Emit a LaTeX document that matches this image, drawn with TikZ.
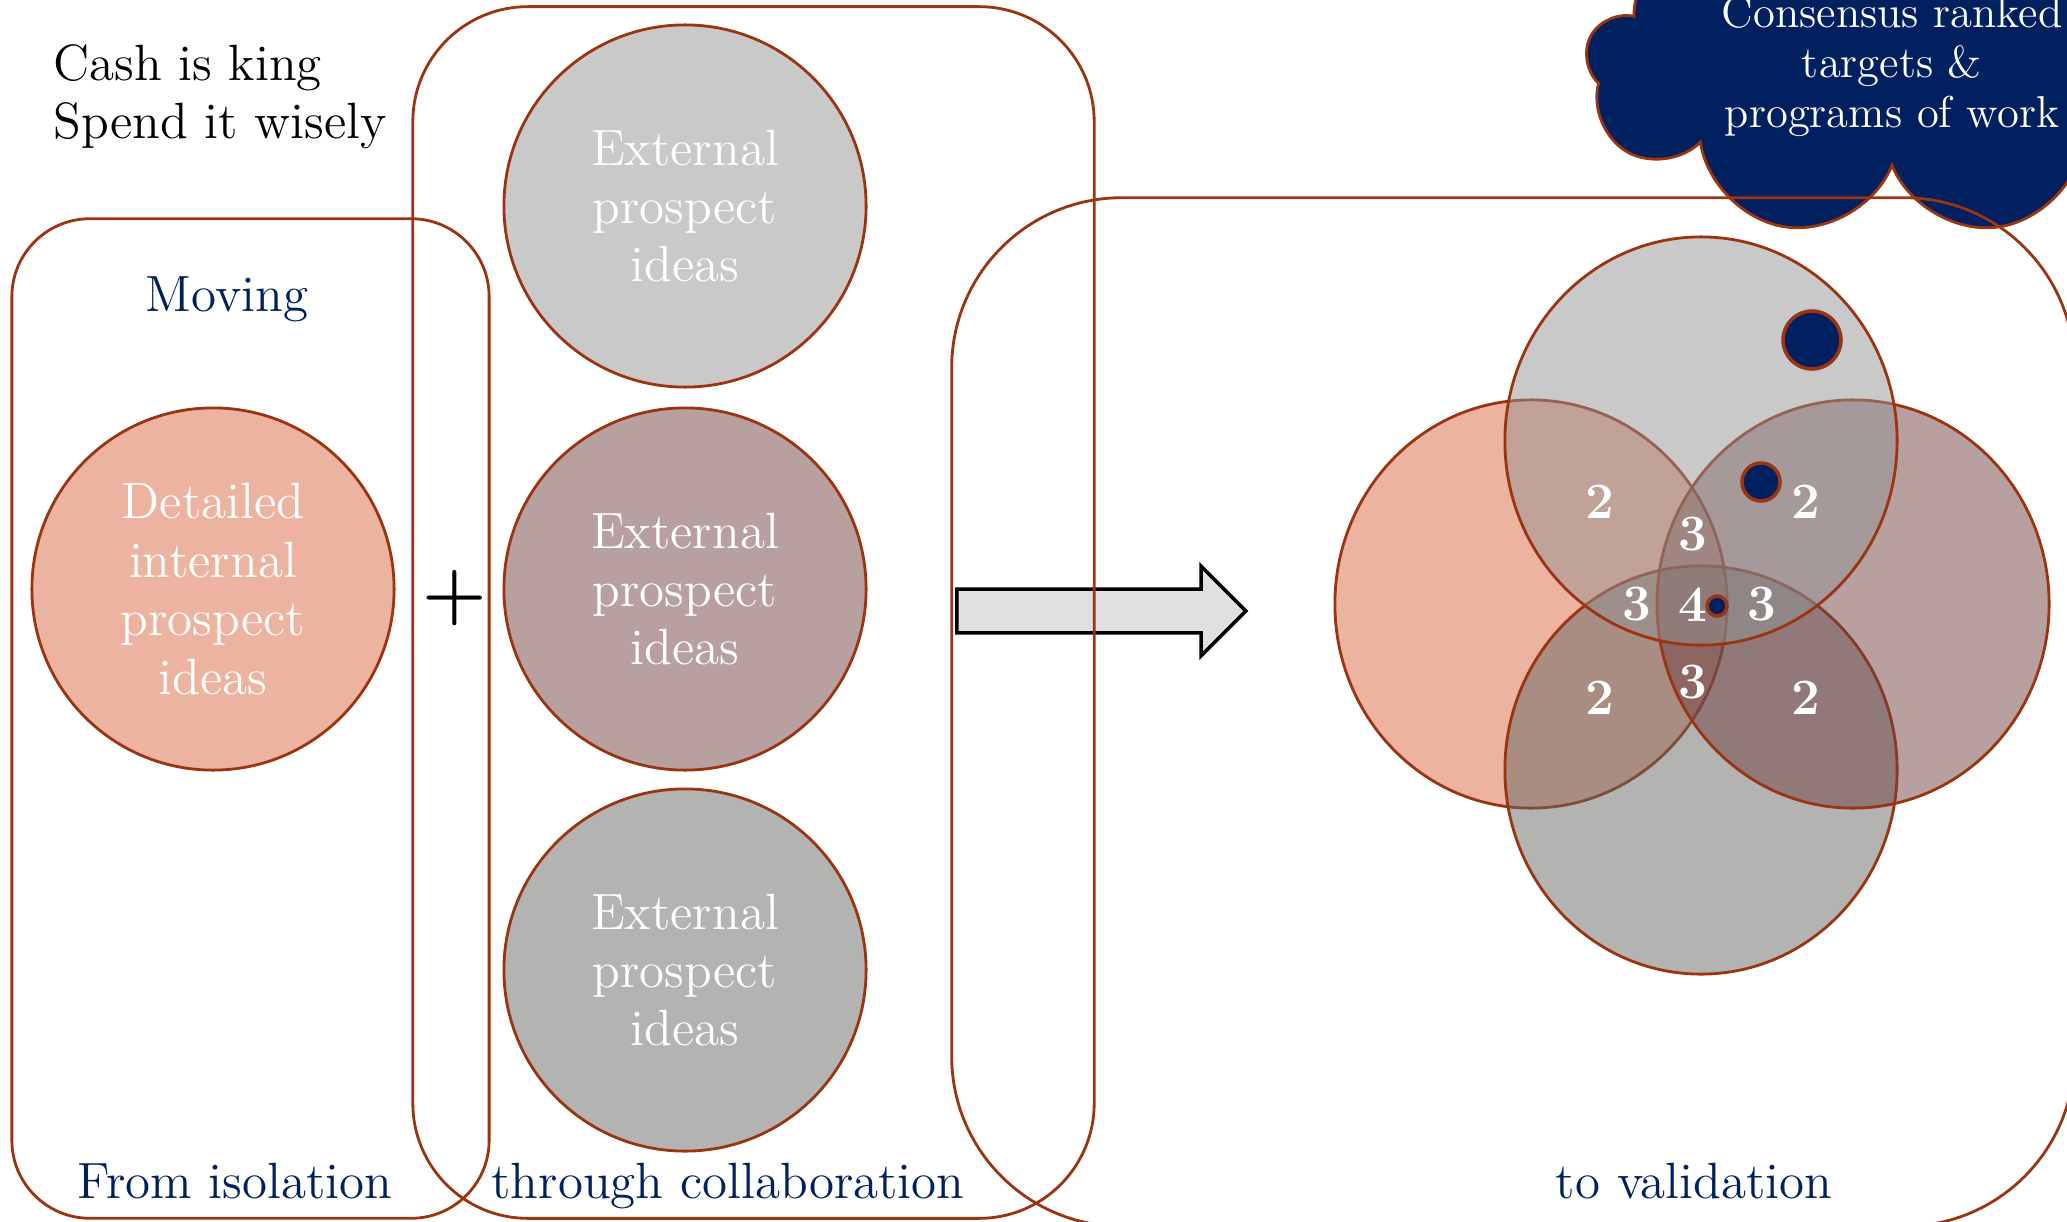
\documentclass[tikz,border=0pt]{standalone}
\usetikzlibrary{shapes.symbols,shapes.arrows,shapes.geometric}

\definecolor{rust}{RGB}{155,52,17}
\definecolor{navy}{RGB}{0,32,96}
\definecolor{salmon}{RGB}{237,179,161}
\definecolor{greyA}{RGB}{201,201,201}
\definecolor{mauve}{RGB}{184,160,160}
\definecolor{greyB}{RGB}{179,179,178}
\definecolor{arrowfill}{RGB}{224,224,224}
\definecolor{vsalmon}{RGB}{219,103,67}
\definecolor{vgreyA}{RGB}{147,147,147}
\definecolor{vmauve}{RGB}{113,65,65}
\definecolor{vgreyB}{RGB}{103,103,101}

\begin{document}
\begin{tikzpicture}[x=0.01cm, y=-0.01cm,
  font=\fontsize{14.5}{16.6}\selectfont,
  panel/.style={rectangle, draw=rust, line width=0.8pt},
  idea/.style={circle, draw=rust, line width=0.8pt, minimum size=3.62cm, text=white, align=center},
  venn/.style={ellipse, draw=rust, line width=0.8pt, fill opacity=0.5, minimum width=3.92cm, minimum height=4.08cm},
  caption/.style={text=navy, anchor=base},
  tally/.style={text=white, font=\fontsize{14.5}{16.6}\selectfont\bfseries},
  dot/.style={circle, draw=rust, line width=1pt, fill=navy, inner sep=0pt}]

  \useasboundingbox (0,0) rectangle (2067,1221);
  \clip (0,0) rectangle (2067,1221);

  \node[cloud, cloud puffs=9, aspect=3, draw=rust, fill=navy, text=white, align=center, line width=0.8pt,
        inner sep=0pt, minimum width=5.9cm, minimum height=1.6cm, font=\fontsize{12.7}{14.2}\selectfont]
        (consensus) at (1892, 66) {Consensus ranked\\targets \&\\programs of work};

  \node[single arrow, draw=black, fill=arrowfill, line width=1pt, inner xsep=0pt, inner ysep=0.2cm,
        single arrow head extend=0.23cm, minimum height=2.89cm, anchor=west] (shift) at (955, 611) {};

  \node[panel, minimum width=4.77cm, minimum height=9.99cm, rounded corners=0.78cm] (isobox) at (250.5, 718.5) {};
  \node[panel, minimum width=6.81cm, minimum height=12.11cm, rounded corners=1.15cm] (collabbox) at (753.5, 612.5) {};
  \node[panel, minimum width=11.22cm, minimum height=10.28cm, rounded corners=1.7cm] (validbox) at (1513, 712) {};

  \node[anchor=west, align=left, inner sep=0pt] (motto) at (53, 97) {Cash is king\\Spend it wisely};

  \node[idea, fill=salmon] (internal) at (213, 589) {Detailed\\internal\\prospect\\ideas};
  \node (plus) at (455, 598) {\fontsize{21}{21}\selectfont\bfseries +};
  \node[idea, fill=greyA] (ext1) at (685, 206) {External\\prospect\\ideas};
  \node[idea, fill=mauve] (ext2) at (685, 589) {External\\prospect\\ideas};
  \node[idea, fill=greyB] (ext3) at (685, 970) {External\\prospect\\ideas};

  \node[venn, fill=vsalmon] (vleft) at (1531, 604) {};
  \node[venn, fill=vgreyB] (vbottom) at (1701, 770) {};
  \node[venn, fill=vmauve] (vright) at (1853, 604) {};
  \node[venn, fill=vgreyA] (vtop) at (1701, 441) {};

  \foreach \x/\y/\n [count=\i] in {1600/502/2, 1806/502/2, 1600/698/2, 1806/698/2,
      1693/534/3, 1637/604/3, 1762/604/3, 1693/682/3, 1693/605/4}
    \node[tally] (tally\i) at (\x, \y) {\n};

  \node[dot, minimum size=0.58cm] (bigdot) at (1812, 340) {};
  \node[dot, minimum size=0.38cm] (middot) at (1761, 482) {};
  \node[dot, minimum size=0.2cm] (smalldot) at (1717, 606) {};

  \node[caption] (moving) at (227, 311) {Moving};
  \node[caption] (isolation) at (235, 1198) {From isolation};
  \node[caption] (collab) at (728, 1198) {through collaboration};
  \node[caption] (validation) at (1694, 1198) {to validation};
\end{tikzpicture}
\end{document}
